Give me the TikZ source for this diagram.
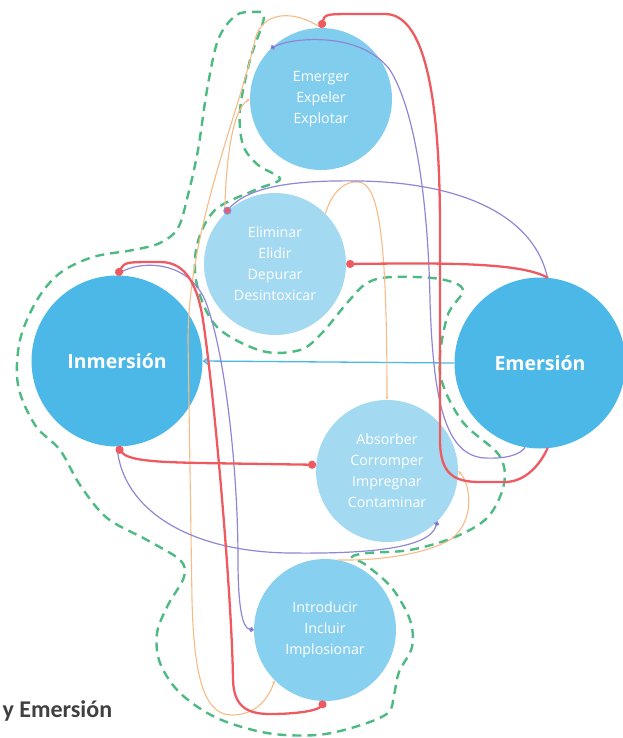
\documentclass[tikz,border=0pt]{standalone}
\usepackage{fontspec}
\setmainfont{Open Sans}
\newfontfamily\capfont{Carlito}
\usetikzlibrary{arrows.meta}
\definecolor{bigblue}{HTML}{4BB8E8}
\definecolor{topblue}{HTML}{80CDEE}
\definecolor{paleblue}{HTML}{A3D9F1}
\definecolor{lowblue}{HTML}{88D0EF}
\definecolor{redline}{HTML}{EE5A60}
\definecolor{violet}{HTML}{8F86D6}
\definecolor{violetdot}{HTML}{5E62CF}
\definecolor{peach}{HTML}{F7BB86}
\definecolor{dashgreen}{HTML}{4DBA82}
\definecolor{capgray}{HTML}{404040}
\newcommand{\SmallF}{\fontsize{14.2}{21}\selectfont}
\newcommand{\BigF}{\fontsize{19.5}{23}\selectfont\bfseries}

\begin{document}
\begin{tikzpicture}[x=1pt,y=-1pt,
  bigc/.style={circle, fill=bigblue, minimum size=171pt, inner sep=0pt, text=white, font=\BigF},
  smallc/.style={circle, minimum size=142pt, inner sep=0pt, text=white, font=\SmallF, align=center},
  redw/.style={draw=redline, line width=2.3pt, line cap=round},
  violetw/.style={draw=violet, line width=1.2pt},
  peachw/.style={draw=peach, line width=1.1pt},
  rdot/.tip={Circle[length=8pt,width=8pt,fill=redline]},
  vdot/.tip={Circle[length=5pt,width=5pt,fill=violetdot]},
  ptip/.tip={Stealth[length=3.5pt,width=3pt]},
  outline/.style={draw=dashgreen, line width=2.4pt, dash pattern=on 9pt off 6pt}
]
\useasboundingbox (0,0) rectangle (623,738);

\node[bigc] (inm) at (117,361) {Inmersión};
\node[bigc] (emr) at (540,363) {Emersión};
\node[smallc, fill=topblue] (emg) at (321,99) {Emerger\\Expeler\\Explotar};
\node[smallc, fill=paleblue] (eli) at (275,264) {Eliminar\\Elidir\\Depurar\\Desintoxicar};
\node[smallc, fill=paleblue] (abs) at (387,471) {Absorber\\Corromper\\Impregnar\\Contaminar};
\node[smallc, fill=lowblue] (intr) at (325,630) {Introducir\\Incluir\\Implosionar};
\node[anchor=base west, font=\capfont\bfseries\fontsize{24}{28}\selectfont, text=capgray] (cap) at (-1,717) {y Emersión};

\draw[outline] plot[smooth cycle, tension=0.55] coordinates {
  (264,17) (250,60) (240,110) (243,145) (258,165) (280,179) (255,190) (215,210)
  (197,245) (197,285) (217,327) (262,351) (300,350) (322,333) (347,303) (367,283)
  (392,277) (440,279) (463,290) (447,317) (440,373) (462,421) (499,455) (504,484)
  (488,517) (455,537) (410,550) (368,553) (352,557) (366,565) (392,588) (410,620)
  (412,647) (399,672) (394,695) (388,713) (358,726) (317,735) (267,733) (217,718)
  (180,693) (160,663) (157,633) (168,605) (184,577) (180,560) (147,540) (107,518)
  (80,485) (60,450) (35,425) (18,385) (20,340) (37,300) (60,273) (93,257) (133,250)
  (160,243) (178,228) (188,195) (198,150) (207,90) (218,40) (235,16) (252,12)};

\draw[draw=bigblue, line width=1.3pt, -{Straight Barb[length=5pt,width=8pt]}] (emr.west) -- (inm.east);

\draw[peachw, -ptip] (eli.45) .. controls (333,190) and (345,181) .. (358,182)
  .. controls (378,183) and (387,230) .. (abs.north);
\draw[peachw, ptip-] (emg.west) .. controls (232,110) and (226,160) .. (eli.135);
\draw[peachw, -ptip] (emg.north) .. controls (295,10) and (262,10) .. (255,40)
  .. controls (240,110) and (188,230) .. (188,340) -- (192,600)
  .. controls (194,680) and (205,715) .. (232,715) .. controls (255,715) and (268,700) .. (intr.225);
\draw[peachw, -ptip] (intr.80) .. controls (370,561) and (420,556) .. (448,541)
  .. controls (475,525) and (472,485) .. (abs.east);

\draw[violetw, vdot-] (emg.135) .. controls (290,38) and (360,30) .. (390,70)
  .. controls (415,110) and (428,200) .. (430,300) .. controls (433,400) and (445,456) .. (485,458)
  .. controls (505,459) and (520,455) .. (emr.260);
\draw[violetw, rdot-] (eli.135) .. controls (250,185) and (300,180) .. (360,181)
  .. controls (470,183) and (535,220) .. (emr.85);
\draw[violetw, -vdot] (inm.south) .. controls (122,510) and (190,552) .. (290,553)
  .. controls (370,554) and (430,548) .. (abs.-45);
\draw[violetw, -vdot] (inm.north) .. controls (130,262) and (185,255) .. (205,300)
  .. controls (225,350) and (238,470) .. (238,560) .. controls (238,610) and (243,628) .. (intr.west);

\draw[redw, rdot-] (eli.east) .. controls (440,263) and (520,262) .. (emr.85);
\draw[redw, rdot-] (emg.north) .. controls (325,14) .. (360,14) -- (385,14)
  .. controls (430,14) and (440,120) .. (440,230) -- (440,440)
  .. controls (440,475) and (455,482) .. (480,482) -- (505,482)
  .. controls (525,482) and (540,465) .. (emr.275);
\draw[redw, rdot-rdot] (inm.north) .. controls (125,262) .. (160,262)
  .. controls (180,262) and (196,275) .. (203,320) .. controls (215,400) and (232,600) .. (233,680)
  .. controls (234,705) and (245,714) .. (270,714) .. controls (300,714) and (318,710) .. (intr.south);
\draw[redw, rdot-rdot] (inm.south) .. controls (128,460) and (150,462) .. (200,463) -- (abs.175);
\end{tikzpicture}
\end{document}
